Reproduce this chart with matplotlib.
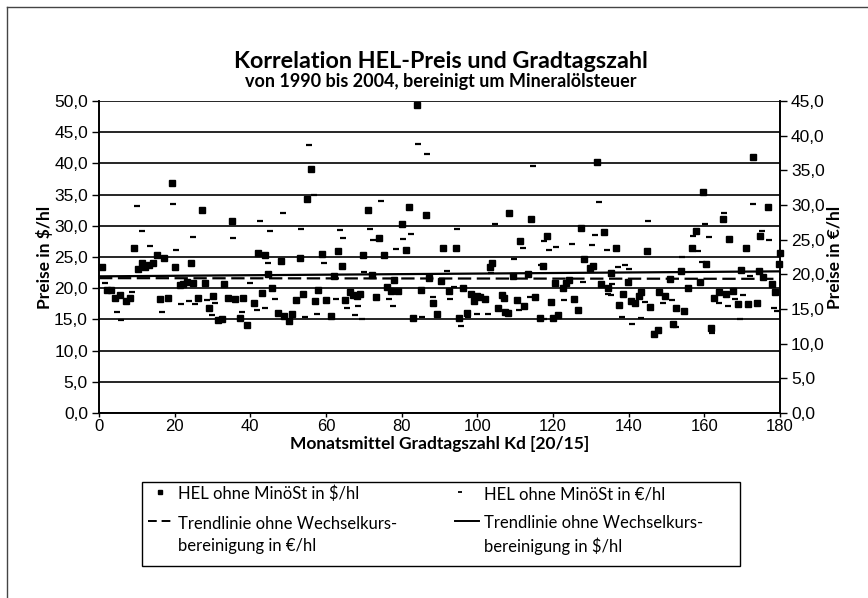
import matplotlib
matplotlib.use("Agg")
import matplotlib.pyplot as plt
from matplotlib.lines import Line2D
from matplotlib.patches import Rectangle

# ---------------- data ----------------
usd_x = [0.7, 2.0, 3.2, 4.2, 5.6, 7.1, 8.2, 9.3, 10.2, 11.3, 12.2, 13.3, 14.4, 15.2, 16.1,
         17.3, 18.3, 19.2, 20.1, 21.4, 22.3, 23.2, 24.2, 24.9, 26.1, 27.1, 28.0, 29.2, 30.2,
         31.5, 32.4, 33.1, 34.0, 35.1, 35.9, 37.3, 38.0, 39.0, 41.1, 42.1, 43.2, 43.9, 44.8,
         45.8, 47.2, 48.0, 48.9, 50.2, 50.9, 52.1, 53.0, 54.0, 55.1, 56.0, 57.1, 58.0, 58.9,
         60.0, 61.2, 62.1, 63.1, 64.1, 65.0, 66.3, 67.2, 68.1, 69.0, 69.9, 71.2, 72.1, 73.2,
         74.1, 75.2, 76.2, 77.2, 78.0, 79.1, 80.0, 81.2, 82.0, 83.1, 84.0, 85.0, 86.4, 87.3,
         88.2, 89.3,
         90.3, 91.0, 92.6, 94.3, 95.2, 96.1, 97.2, 98.3, 99.1, 99.8, 100.7, 102.0, 103.3,
         104.0, 105.4, 106.4, 107.0, 107.3, 108.0, 108.4, 109.3, 110.4, 111.3, 112.4, 113.5,
         114.2, 115.2, 116.6, 117.4, 118.3, 119.5, 120.1, 120.5, 121.4, 122.6, 123.4, 124.3,
         125.6, 126.5, 127.4, 128.2, 129.8, 130.5, 131.7, 132.6, 133.6, 134.6,
         135.3, 136.7, 137.5, 138.6, 139.8, 140.6, 141.7, 142.6, 143.3, 144.8, 145.6, 146.8,
         147.7, 148.1, 149.6, 150.9, 151.8, 152.5, 153.8, 154.7, 155.8, 156.8, 157.7, 158.9,
         159.7, 160.5, 161.8, 162.6, 163.9, 164.9, 165.7, 166.6, 167.5, 168.8, 169.6, 170.9,
         171.6, 172.8, 173.8, 174.5, 174.7, 175.6, 176.8, 177.8, 178.7, 179.8, 180.0]
usd_y = [23.4, 19.7, 19.7, 18.4, 18.9, 18.0, 18.5, 26.4, 23.0, 24.0, 23.4, 23.7, 24.1, 25.4, 18.3,
         24.8, 18.4, 36.9, 23.4, 20.5, 20.6, 21.0, 24.1, 20.9, 18.4, 32.5, 20.9, 16.8, 18.7,
         14.9, 15.0, 20.7, 18.5, 30.8, 18.3, 15.3, 18.5, 14.1, 17.7, 25.6, 19.2, 25.3, 22.2,
         20.0, 16.1, 24.4, 15.5, 14.7, 15.8, 18.1, 24.9, 19.0, 34.3, 39.1, 18.0, 19.7, 25.5,
         18.1, 15.5, 22.0, 26.0, 23.6, 18.1, 19.4, 18.9, 18.8, 19.0, 25.4, 32.5, 22.1, 18.6,
         28.0, 25.3, 20.2, 19.6, 21.3, 19.5, 30.3, 26.1, 33.0, 15.3, 49.4, 19.7, 31.7, 21.7,
         17.6, 15.9,
         21.2, 26.4, 19.5, 26.4, 15.2, 20.1, 16.1, 19.0, 18.0, 18.7, 18.6, 18.3, 23.4,
         24.1, 16.8, 18.9, 18.5, 16.2, 16.0, 32.0, 22.0, 18.1, 27.6, 17.1, 22.3,
         31.1, 18.6, 15.2, 23.6, 28.3, 17.8, 15.3, 20.8, 15.7, 20.1, 20.8, 21.3,
         18.3, 16.5, 29.6, 24.6, 23.3, 23.6, 40.3, 20.7, 29.0, 20.1,
         22.5, 26.4, 17.3, 19.0, 21.0, 18.0, 17.6, 18.8, 19.4, 26.0, 17.0, 12.7,
         13.3, 19.4, 18.8, 21.4, 14.2, 16.8, 22.7, 16.4, 20.1, 26.5, 29.2, 21.0,
         35.4, 23.8, 13.7, 18.5, 19.4, 31.1, 19.1, 27.9, 19.5, 17.4, 22.9, 26.5,
         17.4, 41.0, 17.6, 22.8, 28.3, 21.8, 33.0, 20.6, 19.4, 23.9, 25.6]

eur_x = [1.6, 4.7, 5.8, 8.6, 10.0, 11.3, 13.5, 16.6, 19.6, 20.4, 21.7, 23.9, 24.8, 25.4, 28.5,
         29.8, 30.7, 35.5, 37.7, 40.0, 41.7, 42.6, 43.9, 44.6, 45.2,
         46.5, 48.7, 53.4, 54.4, 55.6, 56.9, 57.5, 59.6, 62.7, 63.7, 64.4, 65.5, 67.7, 68.5,
         69.4, 70.1, 71.6, 72.5, 74.5, 76.7, 77.6, 78.5, 80.4, 82.4, 84.4, 85.3, 86.8, 88.3,
         91.9, 92.8, 93.8, 94.6, 95.7, 97.6, 99.8, 102.7, 103.5, 104.7, 109.7, 111.0, 112.0,
         113.9, 114.8, 116.8, 117.6, 117.7, 118.9, 120.9, 123.0, 124.9, 127.9, 130.2, 131.1,
         132.2, 134.2, 134.6,
         135.3, 135.5, 137.3, 138.2, 139.1, 140.0, 140.8, 143.3, 144.2, 145.2, 146.8, 149.2,
         151.4, 151.9, 152.4, 154.0, 155.8, 157.1, 158.3, 159.3, 160.2, 161.3, 162.1, 164.0,
         165.3, 166.3, 168.1, 169.3, 170.2, 172.1, 172.8, 175.2, 177.2, 178.3, 179.2]
eur_y = [18.7, 14.6, 13.4, 17.4, 29.8, 26.2, 24.1, 14.6, 30.2, 23.5, 15.7, 16.1, 25.4, 15.7, 16.3,
         14.1, 15.8, 25.2, 14.6, 18.7, 14.9, 27.7, 15.1, 21.7, 26.3,
         16.5, 28.8, 26.6, 13.9, 38.7, 31.4, 14.3, 21.6, 16.5, 26.4, 25.2, 15.2, 14.1, 15.5,
         13.6, 20.4, 26.6, 24.9, 30.6, 16.5, 15.4, 23.6, 25.1, 25.8, 38.8, 13.9, 37.4, 16.7,
         20.5, 16.4, 18.2, 26.6, 12.5, 13.9, 14.3, 14.3, 20.2, 27.3, 22.2, 14.8, 23.8,
         16.8, 35.6, 21.4, 24.8, 13.6, 23.5, 24.0, 16.3, 24.4, 18.9, 24.2, 25.7,
         30.5, 23.5, 17.2,
         17.0, 18.6, 21.0, 13.9, 21.3, 20.7, 12.9, 13.7, 16.0, 27.7, 11.7, 15.8,
         16.3, 12.6, 12.4, 22.5, 17.7, 25.5, 23.3, 21.8, 27.3, 25.4, 11.5, 15.8,
         28.8, 15.4, 16.5, 13.6, 17.0, 19.7, 30.2, 26.3, 24.9, 15.2, 14.7]

trend_x = [0, 180]
trend_usd = [21.9, 22.7]
trend_eur = [19.45, 19.35]

x_ticks = [0, 20, 40, 60, 80, 100, 120, 140, 160, 180]
left_ticks = [0, 5, 10, 15, 20, 25, 30, 35, 40, 45, 50]
right_ticks = [0, 5, 10, 15, 20, 25, 30, 35, 40, 45]

title = "Korrelation HEL-Preis und Gradtagszahl"
subtitle = "von 1990 bis 2004, bereinigt um Mineralölsteuer"
xlabel = "Monatsmittel Gradtagszahl Kd [20/15]"
ylabel_left = "Preise in $/hl"
ylabel_right = "Preise in €/hl"
leg_labels = ["HEL ohne MinöSt in $/hl", "HEL ohne MinöSt in €/hl",
              "Trendlinie ohne Wechselkurs-\nbereinigung in €/hl",
              "Trendlinie ohne Wechselkurs-\nbereinigung in $/hl"]

# ---------------- layout ----------------
W, H = 868, 598
fig = plt.figure(figsize=(W / 100, H / 100), dpi=100)
fig.patch.set_facecolor("white")


def fx(px):
    return px / W


def fy(py):
    return 1 - py / H


TXT = ["Lato", "DejaVu Sans"]
TICK = ["Liberation Sans Narrow", "Liberation Sans", "DejaVu Sans"]

ax = fig.add_axes([fx(99), fy(413), fx(780) - fx(99), fy(101) - fy(413)])
ax2 = ax.twinx()

ax.set_xlim(0, 180)
ax.set_ylim(0, 50)
ax2.set_ylim(0, 45)

ax.set_xticks(x_ticks)
ax.set_xticklabels([str(t) for t in x_ticks], family=TICK, fontsize=12)
ax.set_yticks(left_ticks)
ax.set_yticklabels([f"{t:.1f}".replace(".", ",") for t in left_ticks], family=TICK, fontsize=12.5)
ax2.set_yticks(right_ticks)
ax2.set_yticklabels([f"{t:.1f}".replace(".", ",") for t in right_ticks], family=TICK, fontsize=12.5)

ax.yaxis.grid(True, color="black", linewidth=1.2)
ax.set_axisbelow(True)

for a in (ax, ax2):
    a.spines["top"].set_visible(False)
    for s in ("left", "right", "bottom"):
        a.spines[s].set_linewidth(1.2)
        a.spines[s].set_color("black")
    a.tick_params(axis="y", direction="out", length=5, width=1.0, colors="black", pad=3)
ax.tick_params(axis="x", direction="out", length=3, width=1.0, colors="black", pad=1)

ax.set_xlabel(xlabel, family=TXT, fontsize=12.5, fontweight="bold", labelpad=2)
ax.set_ylabel(ylabel_left, family=TXT, fontsize=12.5, fontweight="bold", labelpad=1)
ax2.set_ylabel(ylabel_right, family=TXT, fontsize=12.5, fontweight="bold", labelpad=1)

# data marks
ax.plot(usd_x, usd_y, linestyle="none", marker="s", markersize=3.8,
        color="black", zorder=4, clip_on=False)
ax2.plot(eur_x, eur_y, linestyle="none", marker="_", markersize=4.5, markeredgewidth=1.6,
         color="black", zorder=4, clip_on=False)
ax.plot(trend_x, trend_usd, color="black", linewidth=1.6, zorder=3)
ax2.plot(trend_x, trend_eur, color="black", linewidth=1.6, linestyle=(0, (6, 2.5)), zorder=3)

# titles
fig.text(fx(441), fy(62), title, family=TXT, fontsize=16.8, fontweight="bold",
         ha="center", va="center")
fig.text(fx(441), fy(81), subtitle, family=TXT, fontsize=13.0, fontweight="bold",
         ha="center", va="center")

# outer frame (left and top edges)
fig.add_artist(Line2D([fx(7), fx(7)], [fy(7), 0], color="#444444", linewidth=1.0))
fig.add_artist(Line2D([fx(7), 1], [fy(7), fy(7)], color="#444444", linewidth=1.0))

# legend (manual box)
fig.add_artist(Rectangle((fx(142), fy(566)), fx(740) - fx(142), fy(482) - fy(566),
                         facecolor="white", edgecolor="black", linewidth=1.0))
LFS = 12
fig.add_artist(Line2D([fx(160)], [fy(492)], marker="s", markersize=2.4, color="black",
                      linestyle="none"))
fig.text(fx(178), fy(494), leg_labels[0], family=TXT, fontsize=LFS, va="center")
fig.add_artist(Line2D([fx(460)], [fy(492)], marker="_", markersize=3, markeredgewidth=1.3,
                      color="black", linestyle="none"))
fig.text(fx(484), fy(494), leg_labels[1], family=TXT, fontsize=LFS, va="center")
fig.add_artist(Line2D([fx(148), fx(173)], [fy(521), fy(521)], color="black", linewidth=1.4,
                      linestyle=(0, (4.5, 2.5))))
fig.text(fx(178), fy(535), leg_labels[2], family=TXT, fontsize=LFS, va="center",
         linespacing=1.5)
fig.add_artist(Line2D([fx(455), fx(479)], [fy(521), fy(521)], color="black", linewidth=1.4))
fig.text(fx(484), fy(535), leg_labels[3], family=TXT, fontsize=LFS, va="center",
         linespacing=1.5)

fig.savefig("out.png", dpi=100, facecolor="white")
